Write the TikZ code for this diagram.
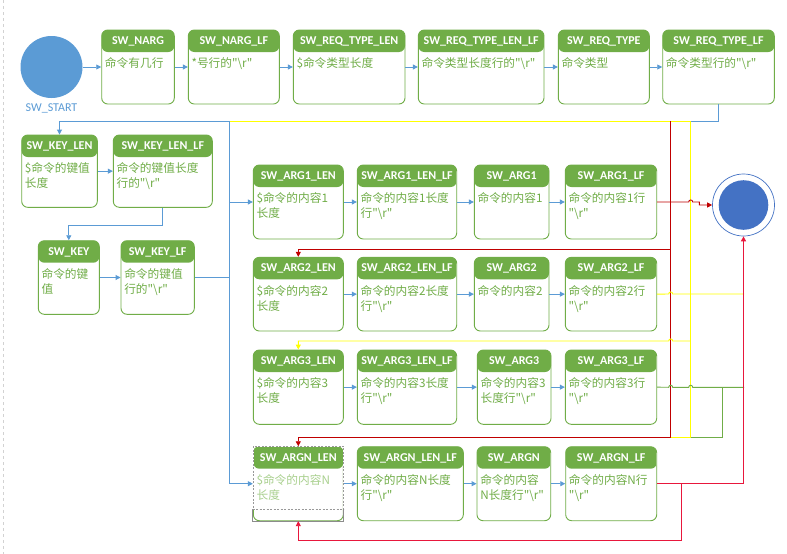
\documentclass[tikz,border=0pt]{standalone}
\usepackage{fontspec}
\newfontfamily\cjk{Noto Sans CJK SC}
\newfontfamily\hdrfont{Carlito}
\usetikzlibrary{arrows.meta}
\definecolor{grn}{HTML}{70AD47}
\definecolor{lgrn}{HTML}{A9D08E}
\definecolor{lblue}{HTML}{5B9BD5}
\definecolor{dblue}{HTML}{4472C4}
\definecolor{dred}{HTML}{C00000}
\definecolor{crim}{HTML}{E8173C}
\definecolor{ylw}{HTML}{FFFF00}
\newcommand\bsr{"\textbackslash r"}
\tikzset{
  stbox/.style={draw=grn, line width=0.9pt, rounded corners=6pt, fill=white, inner sep=0pt,
    path picture={\fill[grn] (path picture bounding box.north west) rectangle ([yshift=-22pt]path picture bounding box.north east);}},
  hdrtxt/.style={font=\hdrfont\bfseries\fontsize{12}{14}\selectfont, text=white, anchor=base, inner sep=0pt},
  bodytxt/.style={font=\cjk\fontsize{11.7}{15}\selectfont, align=left, anchor=north west, inner sep=0pt},
  ln/.style={line width=0.9pt},
  bl/.style={ln, draw=lblue},
  rd/.style={ln, draw=dred},
  yl/.style={ln, draw=ylw},
  gr/.style={ln, draw=grn},
  cr/.style={ln, draw=crim},
  arr/.style={-{Triangle[length=5pt,width=5pt]}},
}
\newcommand\stnode[8]{%
  \node[stbox, minimum width={(#4-#2)*1pt}, minimum height={(#5-#3)*1pt}] (#1) at ({(#2+#4)/2},{(#3+#5)/2}) {};
  \node[hdrtxt] at ([yshift=-15pt]#1.north) {#6};
  \node[bodytxt, text=#8] at ([xshift=3.5pt,yshift=-27.5pt]#1.north west) {\strut#7};
}
\begin{document}
\begin{tikzpicture}[x=1pt,y=-1pt]
\useasboundingbox (0,0) rectangle (787,554);
\fill[white] (0,0) rectangle (787,554);
\draw[gray!35, dashed, line width=0.6pt] (3,0) -- (3,554);

% start
\node[circle, fill=lblue, minimum size=62pt, inner sep=0pt] (start) at (51.5,67) {};
\node[font=\hdrfont\fontsize{12}{14}\selectfont, text=lblue, anchor=base, inner sep=0pt] (startlbl) at (51.5,111.5) {SW\_START};

% top row
\stnode{narg}{101.7}{30}{174.3}{104}{SW\_NARG}{命令有几行}{grn}
\stnode{narglf}{188.3}{30}{279.3}{104}{SW\_NARG\_LF}{*号行的\bsr}{grn}
\stnode{rtlen}{293.3}{30}{405}{104}{SW\_REQ\_TYPE\_LEN}{\$命令类型长度}{grn}
\stnode{rtlenlf}{418.3}{30}{544}{104}{SW\_REQ\_TYPE\_LEN\_LF}{命令类型长度行的\bsr}{grn}
\stnode{rt}{558.3}{30}{649.3}{104}{SW\_REQ\_TYPE}{命令类型}{grn}
\stnode{rtlf}{662.7}{30}{774.3}{104}{SW\_REQ\_TYPE\_LF}{命令类型行的\bsr}{grn}

% key column
\stnode{keylen}{21.7}{135}{97.3}{207.3}{SW\_KEY\_LEN}{\$命令的键值\\长度}{grn}
\stnode{keylenlf}{113.3}{135}{212.3}{207.3}{SW\_KEY\_LEN\_LF}{命令的键值长度\\行的\bsr}{grn}
\stnode{key}{38.3}{240.7}{99.3}{314.3}{SW\_KEY}{命令的键\\值}{grn}
\stnode{keylf}{121}{240.7}{194.3}{314.3}{SW\_KEY\_LF}{命令的键值\\行的\bsr}{grn}

% arg rows
\stnode{aonelen}{253.3}{165}{343.3}{239}{SW\_ARG1\_LEN}{\$命令的内容1\\长度}{grn}
\stnode{aonelenlf}{357.3}{165}{456.7}{239}{SW\_ARG1\_LEN\_LF}{命令的内容1长度\\行\bsr}{grn}
\stnode{aone}{474.3}{165}{549}{239}{SW\_ARG1}{命令的内容1}{grn}
\stnode{aonelf}{565.3}{165}{656.7}{239}{SW\_ARG1\_LF}{命令的内容1行\\\bsr}{grn}

\stnode{atwolen}{253.3}{257.3}{343.3}{331}{SW\_ARG2\_LEN}{\$命令的内容2\\长度}{grn}
\stnode{atwolenlf}{357.3}{257.3}{456.7}{331}{SW\_ARG2\_LEN\_LF}{命令的内容2长度\\行\bsr}{grn}
\stnode{atwo}{474.3}{257.3}{549}{331}{SW\_ARG2}{命令的内容2}{grn}
\stnode{atwolf}{565.3}{257.3}{656.7}{331}{SW\_ARG2\_LF}{命令的内容2行\\\bsr}{grn}

\stnode{athrlen}{253.3}{350}{343.3}{424.3}{SW\_ARG3\_LEN}{\$命令的内容3\\长度}{grn}
\stnode{athrlenlf}{357.3}{350}{456.7}{424.3}{SW\_ARG3\_LEN\_LF}{命令的内容3长度\\行\bsr}{grn}
\stnode{athr}{477.3}{350}{551}{424.3}{SW\_ARG3}{命令的内容3\\长度行\bsr}{grn}
\stnode{athrlf}{565.3}{350}{656.7}{424.3}{SW\_ARG3\_LF}{命令的内容3行\\\bsr}{grn}

\stnode{anlen}{253.3}{446.7}{343.3}{520.7}{SW\_ARGN\_LEN}{\$命令的内容N\\长度}{lgrn}
\stnode{anlenlf}{357.3}{446.7}{463.3}{520.7}{SW\_ARGN\_LEN\_LF}{命令的内容N长度\\行\bsr}{grn}
\stnode{an}{477}{446.7}{550.7}{520.7}{SW\_ARGN}{命令的内容\\N长度行\bsr}{grn}
\stnode{anlf}{565.7}{446.7}{656.7}{520.7}{SW\_ARGN\_LF}{命令的内容N行\\\bsr}{grn}

% selection marks on SW_ARGN_LEN
\draw[white, line width=1.6pt] ([yshift=11.7pt]anlen.south west) -- (anlen.north west) -- (anlen.north east) -- ([yshift=11.7pt]anlen.south east);
\draw[gray!80, line width=0.6pt, dash pattern=on 2pt off 1.5pt] (anlen.north west) rectangle ([yshift=11.7pt]anlen.south east);
\draw[gray!90, line width=0.8pt] ([yshift=11.7pt]anlen.south west) -- (anlen.south west) -- (anlen.south east) -- ([yshift=11.7pt]anlen.south east);

% end
\node[circle, draw=dblue, line width=0.7pt, fill=white, minimum size=62pt, inner sep=0pt] (end) at (743.5,205) {};
\fill[dblue] (end.center) circle[radius=24.8pt];

% horizontal arrows
\foreach \a/\b in {start/narg, narg/narglf, narglf/rtlen, rtlen/rtlenlf, rtlenlf/rt, rt/rtlf,
  keylen/keylenlf, key/keylf,
  aonelen/aonelenlf, aonelenlf/aone, aone/aonelf,
  atwolen/atwolenlf, atwolenlf/atwo, atwo/atwolf,
  athrlen/athrlenlf, athrlenlf/athr, athr/athrlf,
  anlen/anlenlf, anlenlf/an, an/anlf}
  \draw[bl,arr] (\a.east) -- (\b.west);

% blue connectors
\coordinate (jA) at (229.5,121);
\coordinate (jB) at (229.5,277.5);
\draw[bl,arr] (rtlf.south) -- ++(0,17) -| (keylen.north);
\draw[bl,arr] (keylenlf.south) -- ++(0,18) -| (key.north);
\draw[bl] (keylf.east) -- (jB) -- (jA);
\draw[bl,arr] (jB) |- (aonelen.west);
\draw[bl,arr] (jB) |- (anlen.west);

% yellow bus over blue
\draw[yl] (jA) -- (690.7,121) -- (690.7,437);

% red (dark)
\draw[rd,arr] (670.7,121) -- (670.7,437) -| (anlen.north);
\draw[rd,arr] (670.7,249.3) -| (atwolen.north);
\draw[rd,arr] (aonelf.east) -- (688.7,202) .. controls (688.7,199.3) and (692.7,199.3) .. (692.7,202) -- (699.3,202) |- (end.west);

% yellow
\draw[yl] (atwolf.east) -- (668.7,294) .. controls (668.7,291.3) and (672.7,291.3) .. (672.7,294) -- (744,294);
\draw[yl,arr] (690.7,341) -- (672.7,341) .. controls (672.7,338.3) and (668.7,338.3) .. (668.7,341) -| (athrlen.north);
\draw[yl] (670.7,437) -- (690.7,437);

% green
\draw[gr] (athrlf.east) -- (668.7,387.3) .. controls (668.7,384.6) and (672.7,384.6) .. (672.7,387.3)
  -- (688.7,387.3) .. controls (688.7,384.6) and (692.7,384.6) .. (692.7,387.3) -- (744,387.3);
\draw[gr] (722.3,387.3) -- (722.3,437) -- (690.7,437);

% crimson
\draw[cr,arr] (anlf.east) -| (end.south);
\draw[cr,arr] (681.3,483.7) -- (681.3,540) -| (anlen.south);
\end{tikzpicture}
\end{document}
